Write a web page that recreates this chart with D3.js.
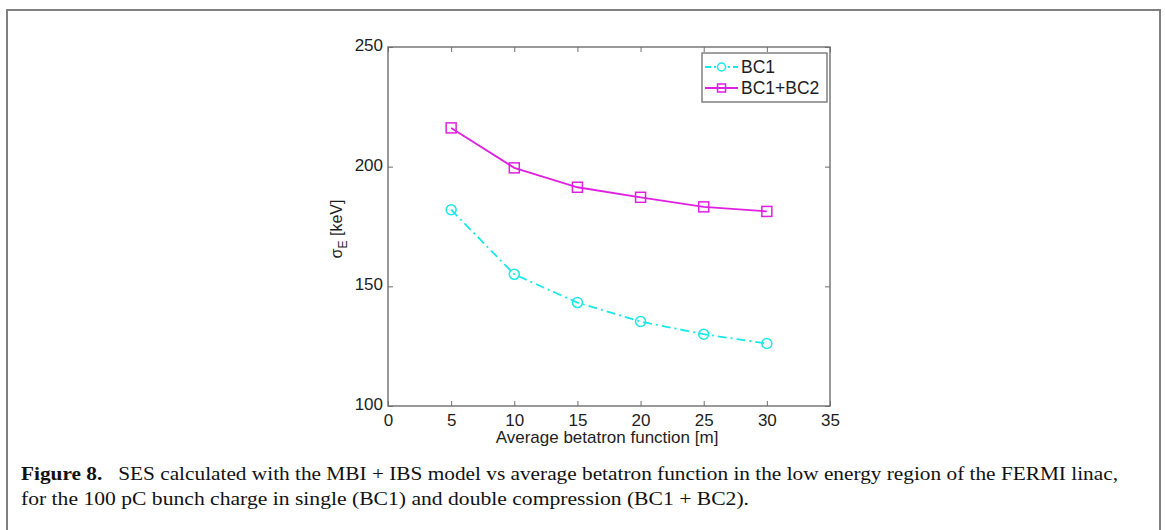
<!DOCTYPE html>
<html>
<head>
<meta charset="utf-8">
<script src="https://cdn.jsdelivr.net/npm/d3@7"></script>
<style>
  body { margin: 0; background: #fff; }
  svg { display: block; }
</style>
</head>
<body>
<script>
const betaValues = [5, 10, 15, 20, 25, 30]
const bc1Values = [182, 155, 143.2, 135.3, 130, 126.1]
const bc12Values = [216.2, 199.5, 191.4, 187.2, 183.2, 181.3]
const xTicks = [0, 5, 10, 15, 20, 25, 30, 35]
const yTicks = [100, 150, 200, 250]
const seriesNames = ["BC1", "BC1+BC2"]

const W = 1165, H = 530
const plot = {left: 388, right: 830, top: 47, bottom: 406}
const sans = "'Liberation Sans', Arial, sans-serif"
const serif = "'Liberation Serif', 'Times New Roman', serif"

const svg = d3.select("body").append("svg")
    .attr("width", W)
    .attr("height", H)
    .attr("font-family", sans)

// outer frame of the figure
svg.append("path")
    .attr("d", `M7,${H + 5} V10 H1160 V${H + 5}`)
    .attr("fill", "none")
    .attr("stroke", "#808080")
    .attr("stroke-width", 2)

const x = d3.scaleLinear().domain([0, 35]).range([plot.left, plot.right])
const y = d3.scaleLinear().domain([100, 250]).range([plot.bottom, plot.top])

const axisColor = "#6e6e6e"
const textColor = "#1e1e1e"

// box
svg.append("rect")
    .attr("x", plot.left).attr("y", plot.top)
    .attr("width", plot.right - plot.left).attr("height", plot.bottom - plot.top)
    .attr("fill", "none").attr("stroke", axisColor).attr("stroke-width", 1.4)

// axes with inward ticks
function styleAxis(g) {
    g.select(".domain").remove()
    g.selectAll(".tick line").attr("stroke", axisColor).attr("stroke-width", 1)
    g.selectAll(".tick text").attr("fill", textColor).attr("font-size", 17)
        .attr("font-family", sans)
}

svg.append("g")
    .attr("transform", `translate(0,${plot.bottom})`)
    .call(d3.axisBottom(x).tickValues(xTicks).tickSize(-5).tickPadding(6))
    .call(styleAxis)
    .call(g => g.selectAll(".tick text").attr("dy", "0.8em"))

svg.append("g")
    .attr("transform", `translate(0,${plot.top})`)
    .call(d3.axisTop(x).tickValues(xTicks).tickSize(-5).tickFormat(""))
    .call(styleAxis)

svg.append("g")
    .attr("transform", `translate(${plot.left},0)`)
    .call(d3.axisLeft(y).tickValues(yTicks).tickSize(-5).tickPadding(5))
    .call(styleAxis)
    .call(g => g.selectAll(".tick text").attr("dy", "0.2em"))

svg.append("g")
    .attr("transform", `translate(${plot.right},0)`)
    .call(d3.axisRight(y).tickValues(yTicks).tickSize(-5).tickFormat(""))
    .call(styleAxis)

// axis labels
svg.append("text")
    .attr("x", 607)
    .attr("y", 443)
    .attr("text-anchor", "middle")
    .attr("font-size", 17)
    .attr("fill", textColor)
    .text("Average betatron function [m]")

const yl = svg.append("text")
    .attr("transform", `translate(342,229) rotate(-90)`)
    .attr("text-anchor", "middle")
    .attr("font-size", 16)
    .attr("fill", textColor)
yl.append("tspan").text("σ")
yl.append("tspan").attr("dy", 5).attr("font-size", 12).text("E")
yl.append("tspan").attr("dy", -5).text(" [keV]")

// series
const bc1 = betaValues.map((b, i) => ({x: b, y: bc1Values[i]}))
const bc12 = betaValues.map((b, i) => ({x: b, y: bc12Values[i]}))
const line = d3.line().x(d => x(d.x)).y(d => y(d.y))

const cyan = "#19e8e8"
const magenta = "#e020e0"

svg.append("path").datum(bc1)
    .attr("d", line).attr("fill", "none")
    .attr("stroke", cyan).attr("stroke-width", 1.8)
    .attr("stroke-dasharray", "9,4,2,4")

svg.append("path").datum(bc12)
    .attr("d", line).attr("fill", "none")
    .attr("stroke", magenta).attr("stroke-width", 1.8)

svg.selectAll(".m1").data(bc1).enter().append("circle")
    .attr("cx", d => x(d.x)).attr("cy", d => y(d.y)).attr("r", 5)
    .attr("fill", "none").attr("stroke", cyan).attr("stroke-width", 1.5)

svg.selectAll(".m2").data(bc12).enter().append("rect")
    .attr("x", d => x(d.x) - 5).attr("y", d => y(d.y) - 5)
    .attr("width", 10).attr("height", 10)
    .attr("fill", "none").attr("stroke", magenta).attr("stroke-width", 1.5)

// legend
svg.append("rect")
    .attr("x", 702).attr("y", 53).attr("width", 125).attr("height", 49)
    .attr("fill", "#fff").attr("stroke", axisColor).attr("stroke-width", 1.3)

const legendItems = [
    {name: seriesNames[0], color: cyan, dash: "6,3,2,3", marker: "circle"},
    {name: seriesNames[1], color: magenta, dash: null, marker: "square"}
]
legendItems.forEach((d, i) => {
    const cy = 67 + i * 21
    svg.append("line")
        .attr("x1", 705).attr("x2", 738).attr("y1", cy).attr("y2", cy)
        .attr("stroke", d.color).attr("stroke-width", 1.8)
        .attr("stroke-dasharray", d.dash)
    if (d.marker === "circle") {
        svg.append("circle").attr("cx", 721.5).attr("cy", cy).attr("r", 4)
            .attr("fill", "#fff").attr("stroke", d.color).attr("stroke-width", 1.5)
    } else {
        svg.append("rect").attr("x", 717.5).attr("y", cy - 4).attr("width", 8).attr("height", 8)
            .attr("fill", "none").attr("stroke", d.color).attr("stroke-width", 1.5)
    }
    svg.append("text")
        .attr("x", 741).attr("y", cy).attr("dy", "0.36em")
        .attr("font-size", 17.5).attr("fill", textColor)
        .text(d.name)
})

// caption
const cap = svg.append("g")
    .attr("font-family", serif)
    .attr("font-size", 18.5)
    .attr("fill", "#111")
const c1 = cap.append("text").attr("x", 21).attr("y", 480)
    .attr("textLength", 1097).attr("lengthAdjust", "spacingAndGlyphs")
c1.append("tspan").attr("font-weight", "bold").text("Figure 8.")
c1.append("tspan").text("\u2002 SES calculated with the MBI + IBS model vs average betatron function in the low energy region of the FERMI linac,")
cap.append("text").attr("x", 21).attr("y", 505)
    .attr("textLength", 728).attr("lengthAdjust", "spacingAndGlyphs")
    .text("for the 100 pC bunch charge in single (BC1) and double compression (BC1 + BC2).")
</script>
</body>
</html>
